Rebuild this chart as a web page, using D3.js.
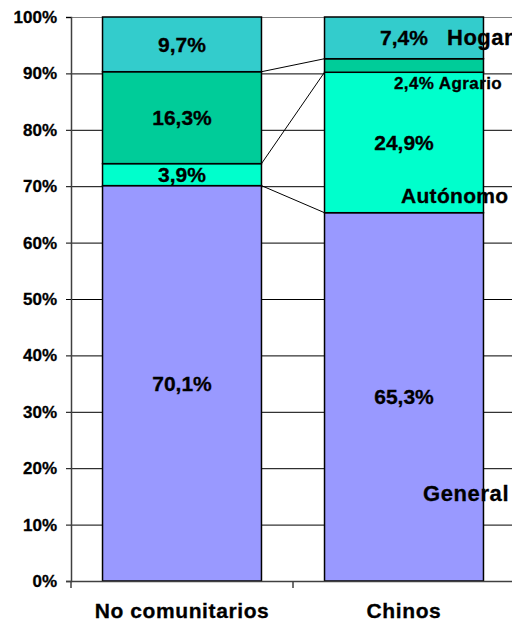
<!DOCTYPE html>
<html>
<head>
<meta charset="utf-8">
<script src="https://cdn.jsdelivr.net/npm/d3@7"></script>
<style>
	body { margin: 0; background: white; }
	text { font-family: "Liberation Sans", Arial, sans-serif; font-weight: bold; fill: black; stroke: black; stroke-width: 0.3px; }
</style>
</head>
<body>
<div id="chart"></div>
<script>
const categories = ['No comunitarios', 'Chinos'];
const seriesNames = ['General', 'Autónomo', 'Agrario', 'Hogar'];
const general = [70.1, 65.3];
const autonomo = [3.9, 24.9];
const agrario = [16.3, 2.4];
const hogar = [9.7, 7.4];
const yTicks = [0, 10, 20, 30, 40, 50, 60, 70, 80, 90, 100];
const colors = ['#9999ff', '#00ffcc', '#00cc99', '#33cccc'];

function chart(selector) {

	let width = 512,
		height = 621,
		margin = {
			top: 17,
			bottom: 40,
			left: 71,
			right: -3
		};

	let rows = categories.map((c, i) => ({
		cat: c,
		'General': general[i],
		'Autónomo': autonomo[i],
		'Agrario': agrario[i],
		'Hogar': hogar[i]
	}));

	let stacked = d3.stack().keys(seriesNames)(rows);

	let x = d3.scaleBand()
		.domain(categories)
		.range([margin.left, width - margin.right])
		.paddingInner(0.284)
		.paddingOuter(0.142);

	let y = d3.scaleLinear()
		.domain([0, 100])
		.range([height - margin.bottom, margin.top]);

	let fmt = v => d3.format('.1f')(v).replace('.', ',') + '%';

	let svg = d3.select(selector)
		.append('svg')
		.attr('width', width)
		.attr('height', height)
		.style('display', 'block');

	// gridlines
	svg.append('g')
		.selectAll('line')
		.data(yTicks.filter(t => t > 0))
		.join('line')
		.attr('x1', margin.left)
		.attr('x2', width)
		.attr('y1', d => y(d) + 0.5)
		.attr('y2', d => y(d) + 0.5)
		.style('stroke', d => d == 100 ? '#808080' : 'black')
		.style('stroke-width', 1);

	// connector lines between the bars
	let x0 = x(categories[0]) + x.bandwidth(),
		x1 = x(categories[1]);
	svg.append('g')
		.selectAll('line')
		.data(stacked.slice(0, stacked.length - 1))
		.join('line')
		.attr('x1', x0)
		.attr('x2', x1)
		.attr('y1', d => y(d[0][1]))
		.attr('y2', d => y(d[1][1]))
		.style('stroke', 'black')
		.style('stroke-width', 1);

	// bars
	svg.append('g')
		.selectAll('g')
		.data(stacked)
		.join('g')
		.attr('fill', (d, i) => colors[i])
		.selectAll('rect')
		.data(d => d)
		.join('rect')
		.attr('x', d => x(d.data.cat))
		.attr('y', d => y(d[1]))
		.attr('width', x.bandwidth())
		.attr('height', d => y(d[0]) - y(d[1]))
		.style('stroke', 'black')
		.style('stroke-width', 1.5);

	// axes
	let yAxis = svg.append('g')
		.attr('transform', 'translate(' + margin.left + ',0)')
		.call(d3.axisLeft(y).tickValues(yTicks).tickSize(5).tickFormat(d => d + '%'));
	yAxis.select('.domain').style('stroke', '#404040').style('stroke-width', 1.5);
	yAxis.selectAll('.tick line').style('stroke', 'black');
	yAxis.selectAll('.tick text')
		.attr('x', -14)
		.style('font-size', '17px')
		.style('font-family', '"Liberation Sans", Arial, sans-serif')
		.style('font-weight', 'bold')
		.attr('fill', 'black');

	svg.append('line')
		.attr('x1', margin.left - 5)
		.attr('x2', width)
		.attr('y1', y(0) + 0.5)
		.attr('y2', y(0) + 0.5)
		.style('stroke', '#404040')
		.style('stroke-width', 1.5);

	let step = x.step();
	svg.append('g')
		.selectAll('line')
		.data([margin.left, margin.left + step])
		.join('line')
		.attr('x1', d => d)
		.attr('x2', d => d)
		.attr('y1', y(0))
		.attr('y2', y(0) + 7)
		.style('stroke', '#404040')
		.style('stroke-width', 1.5);

	svg.append('g')
		.selectAll('text')
		.data(categories)
		.join('text')
		.attr('x', d => x(d) + x.bandwidth() / 2)
		.attr('y', 618)
		.attr('text-anchor', 'middle')
		.style('font-size', '21px')
		.style('letter-spacing', '0.6px')
		.text(d => d);

	// value labels inside the segments
	let labels = [];
	stacked.forEach((s, si) => {
		s.forEach((d, ci) => {
			if (si == 2 && ci == 1) return;
			labels.push({ v: d[1] - d[0], cy: y((d[0] + d[1]) / 2), cx: x(d.data.cat) + x.bandwidth() / 2 });
		});
	});

	svg.append('g')
		.selectAll('text')
		.data(labels)
		.join('text')
		.attr('x', d => d.cx)
		.attr('y', d => d.cy + 7.5)
		.attr('text-anchor', 'middle')
		.style('font-size', '21px')
		.text(d => fmt(d.v));

	// series names next to the second bar
	let c2 = stacked.map(s => s[1]);
	svg.append('text')
		.attr('x', 447)
		.attr('y', y((c2[3][0] + c2[3][1]) / 2) + 7.5)
		.style('font-size', '22px')
		.style('letter-spacing', '0.5px')
		.text(seriesNames[3]);

	svg.append('text')
		.attr('x', 394)
		.attr('y', y(c2[2][0]) + 17)
		.style('font-size', '17px')
		.style('letter-spacing', '0.4px')
		.text(fmt(c2[2][1] - c2[2][0]) + ' ' + seriesNames[2]);

	svg.append('text')
		.attr('x', 401)
		.attr('y', y(c2[1][0]) - 10)
		.style('font-size', '21px')
		.style('letter-spacing', '0.3px')
		.text(seriesNames[1]);

	svg.append('text')
		.attr('x', 423)
		.attr('y', 501)
		.style('font-size', '22px')
		.style('letter-spacing', '0.6px')
		.text(seriesNames[0]);

	return chart;
}

chart('#chart');
</script>
</body>
</html>
